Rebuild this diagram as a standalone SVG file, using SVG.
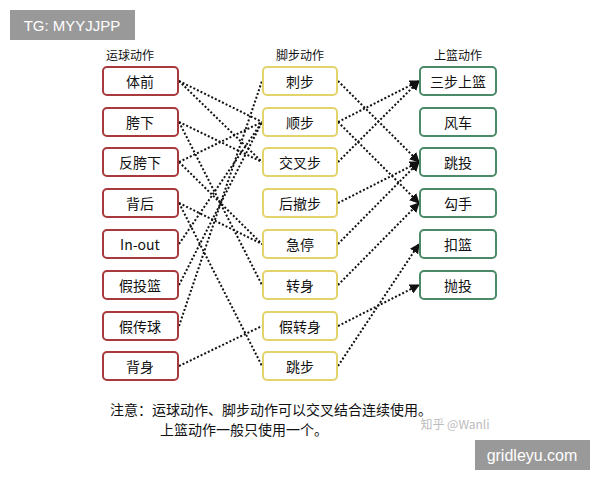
<svg xmlns="http://www.w3.org/2000/svg" width="600" height="480" viewBox="0 0 600 480">
<defs>
<style>
text{font-family:"Noto Sans CJK SC","Liberation Sans",sans-serif;font-size:14px;fill:#111;text-anchor:middle;dominant-baseline:central}
.l{fill:#fff;stroke:#a83a3e;stroke-width:2}
.m{fill:#fff;stroke:#e2d36a;stroke-width:2}
.r{fill:#fff;stroke:#4a8a68;stroke-width:2}
.c line{stroke:#111;stroke-width:2;stroke-dasharray:2 2}
.h{font-size:12px}
</style>
<marker id="a" viewBox="0 0 10 10" refX="9" refY="5" markerWidth="5" markerHeight="5" orient="auto"><path d="M0,0L10,5L0,10z" fill="#111"/></marker>
</defs>
<rect width="600" height="480" fill="#fff"/>
<rect x="10" y="10" width="125" height="30" fill="#999"/>
<text x="72" y="25" style="fill:#fff;font-family:'Liberation Sans',sans-serif;font-size:15px">TG: MYYJJPP</text>
<text class="h" x="130" y="54">运球动作</text>
<text class="h" x="300" y="54">脚步动作</text>
<text class="h" x="458" y="54">上篮动作</text>
<g class="c">
<line x1="179" y1="81" x2="262" y2="122"/><line x1="179" y1="81" x2="262" y2="162"/>
<line x1="179" y1="122" x2="262" y2="162"/><line x1="179" y1="122" x2="262" y2="285"/>
<line x1="179" y1="162" x2="262" y2="122"/><line x1="179" y1="162" x2="262" y2="244"/>
<line x1="179" y1="203" x2="262" y2="244"/><line x1="179" y1="203" x2="262" y2="366"/>
<line x1="179" y1="244" x2="262" y2="122"/><line x1="179" y1="285" x2="262" y2="122"/>
<line x1="179" y1="326" x2="262" y2="81"/><line x1="179" y1="366" x2="262" y2="326"/>
<g marker-end="url(#a)">
<line x1="338" y1="81" x2="419" y2="162"/><line x1="338" y1="122" x2="419" y2="81"/>
<line x1="338" y1="122" x2="419" y2="203"/><line x1="338" y1="162" x2="419" y2="81"/>
<line x1="338" y1="203" x2="419" y2="162"/><line x1="338" y1="244" x2="419" y2="162"/>
<line x1="338" y1="285" x2="419" y2="203"/><line x1="338" y1="326" x2="419" y2="285"/>
<line x1="338" y1="366" x2="419" y2="244"/>
</g>
</g>
<g id="left">
<g id="L1"><rect class="l" x="103" y="67" width="75" height="28" rx="4"/><text x="140" y="81">体前</text></g>
<g id="L2"><rect class="l" x="103" y="108" width="75" height="28" rx="4"/><text x="140" y="122">胯下</text></g>
<g id="L3"><rect class="l" x="103" y="148" width="75" height="28" rx="4"/><text x="140" y="162">反胯下</text></g>
<g id="L4"><rect class="l" x="103" y="189" width="75" height="28" rx="4"/><text x="140" y="203">背后</text></g>
<g id="L5"><rect class="l" x="103" y="230" width="75" height="28" rx="4"/><text x="140" y="244">In-out</text></g>
<g id="L6"><rect class="l" x="103" y="271" width="75" height="28" rx="4"/><text x="140" y="285">假投篮</text></g>
<g id="L7"><rect class="l" x="103" y="312" width="75" height="28" rx="4"/><text x="140" y="326">假传球</text></g>
<g id="L8"><rect class="l" x="103" y="352" width="75" height="28" rx="4"/><text x="140" y="366">背身</text></g>
</g>
<g id="mid">
<g id="M1"><rect class="m" x="263" y="67" width="74" height="28" rx="4"/><text x="300" y="81">刺步</text></g>
<g id="M2"><rect class="m" x="263" y="108" width="74" height="28" rx="4"/><text x="300" y="122">顺步</text></g>
<g id="M3"><rect class="m" x="263" y="148" width="74" height="28" rx="4"/><text x="300" y="162">交叉步</text></g>
<g id="M4"><rect class="m" x="263" y="189" width="74" height="28" rx="4"/><text x="300" y="203">后撤步</text></g>
<g id="M5"><rect class="m" x="263" y="230" width="74" height="28" rx="4"/><text x="300" y="244">急停</text></g>
<g id="M6"><rect class="m" x="263" y="271" width="74" height="28" rx="4"/><text x="300" y="285">转身</text></g>
<g id="M7"><rect class="m" x="263" y="312" width="74" height="28" rx="4"/><text x="300" y="326">假转身</text></g>
<g id="M8"><rect class="m" x="263" y="352" width="74" height="28" rx="4"/><text x="300" y="366">跳步</text></g>
</g>
<g id="right">
<g id="R1"><rect class="r" x="420" y="67" width="76" height="28" rx="4"/><text x="458" y="81">三步上篮</text></g>
<g id="R2"><rect class="r" x="420" y="108" width="76" height="28" rx="4"/><text x="458" y="122">风车</text></g>
<g id="R3"><rect class="r" x="420" y="148" width="76" height="28" rx="4"/><text x="458" y="162">跳投</text></g>
<g id="R4"><rect class="r" x="420" y="189" width="76" height="28" rx="4"/><text x="458" y="203">勾手</text></g>
<g id="R5"><rect class="r" x="420" y="230" width="76" height="28" rx="4"/><text x="458" y="244">扣篮</text></g>
<g id="R6"><rect class="r" x="420" y="271" width="76" height="28" rx="4"/><text x="458" y="285">抛投</text></g>
</g>
<text x="110" y="409" style="text-anchor:start">注意：运球动作、脚步动作可以交叉结合连续使用。</text>
<text x="160" y="429" style="text-anchor:start">上篮动作一般只使用一个。</text>
<text x="455" y="423" style="fill:#bbb;font-size:12px">知乎 @Wanli</text>
<rect x="475" y="440" width="115" height="30" fill="#999"/>
<text x="532" y="455" style="fill:#fff;font-family:'Liberation Sans',sans-serif;font-size:16px">gridleyu.com</text>
</svg>
